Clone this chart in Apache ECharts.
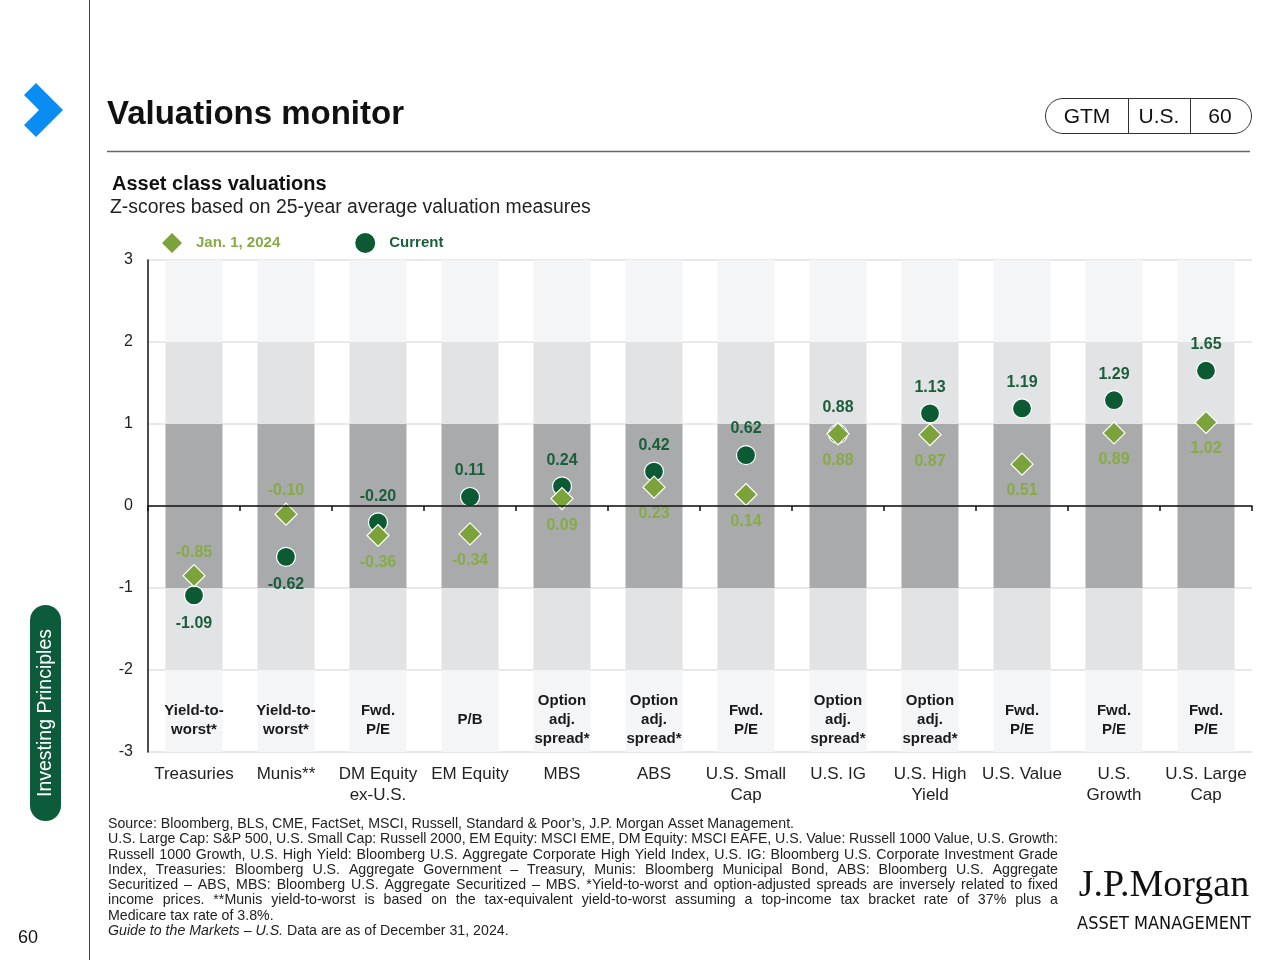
<!DOCTYPE html>
<html>
<head>
<meta charset="utf-8">
<script src="https://cdn.jsdelivr.net/npm/echarts@6/dist/echarts.min.js"></script>
<style>
html,body{margin:0;padding:0;background:#fff;}
#chart{width:1280px;height:960px;}
</style>
</head>
<body>
<div id="chart"></div>
<script>
// ---------- data ----------
const categories = ['Treasuries', 'Munis**', 'DM Equity\nex-U.S.', 'EM Equity', 'MBS', 'ABS',
  'U.S. Small\nCap', 'U.S. IG', 'U.S. High\nYield', 'U.S. Value', 'U.S.\nGrowth', 'U.S. Large\nCap'];
const measures = ['Yield-to-\nworst*', 'Yield-to-\nworst*', 'Fwd.\nP/E', 'P/B', 'Option\nadj.\nspread*',
  'Option\nadj.\nspread*', 'Fwd.\nP/E', 'Option\nadj.\nspread*', 'Option\nadj.\nspread*', 'Fwd.\nP/E',
  'Fwd.\nP/E', 'Fwd.\nP/E'];
const current = [-1.09, -0.62, -0.20, 0.11, 0.24, 0.42, 0.62, 0.88, 1.13, 1.19, 1.29, 1.65];
const jan2024 = [-0.85, -0.10, -0.36, -0.34, 0.09, 0.23, 0.14, 0.88, 0.87, 0.51, 0.89, 1.02];
const yTicks = [-3, -2, -1, 0, 1, 2, 3];
const bandEdges = [1, 2, 3]; // z-score band edges (symmetrical around 0)
const seriesNames = ['Jan. 1, 2024', 'Current'];

// ---------- styles ----------
const FONT = '"Liberation Sans", Arial, sans-serif';
const DARK_GREEN = '#0b5a34';
const DARK_GREEN_TXT = '#1b5e3c';
const OLIVE = '#7ba33a';
const OLIVE_TXT = '#88ab46';
const bandColors = ['#a9aaac', '#e2e3e5', '#f4f5f7'];

const chart = echarts.init(document.getElementById('chart'));

// background bands as stacked bars
const bandSeries = [];
let prev = 0;
bandEdges.forEach((edge, k) => {
  const thick = edge - prev;
  prev = edge;
  [-1, 1].forEach(sign => {
    const s = {
      type: 'bar', stack: 'bands', barWidth: '62%', silent: true, z: 1,
      itemStyle: { color: bandColors[k] },
      data: categories.map(() => sign * thick),
      label: { show: false }
    };
    if (k === bandEdges.length - 1 && sign === -1) {
      s.label = {
        show: true, position: 'inside', offset: [0, 9],
        formatter: p => measures[p.dataIndex],
        color: '#1a1a1a', fontFamily: FONT, fontWeight: 'bold', fontSize: 15, lineHeight: 19
      };
    }
    bandSeries.push(s);
  });
});

const fmt = p => (typeof p.value === 'number' ? p.value : p.value[1]).toFixed(2);

const janData = jan2024.map((v, i) => ({
  value: v,
  label: { position: current[i] >= v ? 'bottom' : 'top', distance: current[i] >= v ? 7 : 4 }
}));
const curData = current.map((v, i) => ({
  value: v,
  label: { position: v >= jan2024[i] ? 'top' : 'bottom', distance: v >= jan2024[i] ? 8 : 10 }
}));

// footnotes
const footLines = [
  'Source: Bloomberg, BLS, CME, FactSet, MSCI, Russell, Standard & Poor\u2019s, J.P. Morgan Asset Management.',
  'U.S. Large Cap: S&P 500, U.S. Small Cap: Russell 2000, EM Equity: MSCI EME, DM Equity: MSCI EAFE, U.S. Value: Russell 1000 Value, U.S. Growth:',
  'Russell 1000 Growth, U.S. High Yield: Bloomberg U.S. Aggregate Corporate High Yield Index, U.S. IG: Bloomberg U.S. Corporate Investment Grade',
  'Index, Treasuries: Bloomberg U.S. Aggregate Government \u2013 Treasury, Munis: Bloomberg Municipal Bond, ABS: Bloomberg U.S. Aggregate',
  'Securitized \u2013 ABS, MBS: Bloomberg U.S. Aggregate Securitized \u2013 MBS. *Yield-to-worst and option-adjusted spreads are inversely related to fixed',
  'income prices. **Munis yield-to-worst is based on the tax-equivalent yield-to-worst assuming a top-income tax bracket rate of 37% plus a',
  'Medicare tax rate of 3.8%.'
];
const FOOT_SIZE = 14.2;
const footFont = FOOT_SIZE + 'px ' + FONT;
const ctx = document.createElement('canvas').getContext('2d');
ctx.font = footFont;
const footEls = [];
const footX = 108, footW = 950, footY0 = 824, footDY = 15.3;
footLines.forEach((line, li) => {
  const y = footY0 + li * footDY;
  const justify = li >= 1 && li <= 5;
  if (!justify) {
    footEls.push({ type: 'text', x: footX, y: y, style: { text: line, font: footFont, fill: '#222', textVerticalAlign: 'middle' } });
  } else {
    const words = line.split(' ');
    const widths = words.map(w => ctx.measureText(w).width);
    const total = widths.reduce((a, b) => a + b, 0);
    const gap = (footW - total) / (words.length - 1);
    let x = footX;
    words.forEach((w, wi) => {
      footEls.push({ type: 'text', x: x, y: y, style: { text: w, font: footFont, fill: '#222', textVerticalAlign: 'middle' } });
      x += widths[wi] + gap;
    });
  }
});
footEls.push({
  type: 'text', x: footX, y: footY0 + 7 * footDY,
  style: {
    text: '{i|Guide to the Markets \u2013 U.S.} Data are as of December 31, 2024.',
    font: footFont, fill: '#222', textVerticalAlign: 'middle',
    rich: { i: { fontStyle: 'italic', fontSize: FOOT_SIZE, fontFamily: FONT, fill: '#222' } }
  }
});

const option = {
  animation: false,
  backgroundColor: '#fff',
  textStyle: { fontFamily: FONT },
  legend: {
    left: 162, top: 233, padding: 0, itemWidth: 20, itemHeight: 20, itemGap: 75,
    selectedMode: false,
    data: [
      { name: seriesNames[0], icon: 'diamond', itemStyle: { borderWidth: 0 }, textStyle: { color: OLIVE_TXT } },
      { name: seriesNames[1], icon: 'circle', itemStyle: { borderWidth: 0 }, textStyle: { color: DARK_GREEN_TXT } }
    ],
    textStyle: { fontFamily: FONT, fontWeight: 'bold', fontSize: 15, padding: [0, 0, 0, 9] }
  },
  grid: { left: 148, right: 28, top: 260, bottom: 208 },
  xAxis: [
    {
      type: 'category', data: categories, position: 'bottom',
      axisLine: { onZero: true, lineStyle: { color: '#111', width: 1.5 } },
      axisTick: { show: true, length: 5, lineStyle: { color: '#111', width: 1.5 } },
      axisLabel: { show: false }, splitLine: { show: false }, z: 5
    },
    {
      type: 'category', data: categories, position: 'bottom',
      axisLine: { show: false, onZero: false }, axisTick: { show: false },
      axisLabel: { show: true, margin: 12, color: '#222', fontSize: 17, lineHeight: 21, fontFamily: FONT, interval: 0 }
    }
  ],
  yAxis: {
    type: 'value', min: yTicks[0], max: yTicks[yTicks.length - 1], interval: 1,
    axisLine: { show: true, lineStyle: { color: '#111', width: 1.5 } },
    axisTick: { show: false },
    axisLabel: { color: '#222', fontSize: 16, margin: 15, fontFamily: FONT },
    splitLine: { show: true, lineStyle: { color: '#e0e1e3', width: 1.5 } }
  },
  series: bandSeries.concat([
    {
      name: seriesNames[1], type: 'scatter', data: curData, z: 3,
      symbol: 'circle', symbolSize: 19,
      itemStyle: { color: DARK_GREEN, borderColor: '#fff', borderWidth: 1.2, opacity: 1 },
      label: { show: true, formatter: fmt, color: DARK_GREEN_TXT, fontWeight: 'bold', fontSize: 16, fontFamily: FONT }
    },
    {
      name: seriesNames[0], type: 'scatter', data: janData, z: 4,
      symbol: 'diamond', symbolSize: 22,
      itemStyle: { color: OLIVE, borderColor: '#fff', borderWidth: 1.2, opacity: 1 },
      label: { show: true, formatter: fmt, color: OLIVE_TXT, fontWeight: 'bold', fontSize: 16, fontFamily: FONT }
    }
  ]),
  graphic: [
    // left rule
    { type: 'line', shape: { x1: 89.5, y1: 0, x2: 89.5, y2: 960 }, style: { stroke: '#444', lineWidth: 1 } },
    // chevron
    { type: 'polygon', shape: { points: [[24, 95], [36, 83], [63, 110], [36, 137], [24, 125], [39, 110]] }, style: { fill: '#0a8df2' } },
    // title
    { type: 'text', x: 107, y: 115, style: { text: 'Valuations monitor', font: 'bold 33px ' + FONT, fill: '#111', textVerticalAlign: 'middle' } },
    { type: 'line', shape: { x1: 107, y1: 151.5, x2: 1250, y2: 151.5 }, style: { stroke: '#666', lineWidth: 1.5 } },
    // GTM pill
    { type: 'rect', shape: { x: 1045.5, y: 98.5, width: 206, height: 35, r: 17.5 }, style: { fill: 'none', stroke: '#333', lineWidth: 1 } },
    { type: 'line', shape: { x1: 1128.5, y1: 98.5, x2: 1128.5, y2: 133.5 }, style: { stroke: '#333', lineWidth: 1 } },
    { type: 'line', shape: { x1: 1190.5, y1: 98.5, x2: 1190.5, y2: 133.5 }, style: { stroke: '#333', lineWidth: 1 } },
    { type: 'text', x: 1087, y: 117, style: { text: 'GTM', font: '21px ' + FONT, fill: '#111', textAlign: 'center', textVerticalAlign: 'middle' } },
    { type: 'text', x: 1159, y: 117, style: { text: 'U.S.', font: '21px ' + FONT, fill: '#111', textAlign: 'center', textVerticalAlign: 'middle' } },
    { type: 'text', x: 1220, y: 117, style: { text: '60', font: '21px ' + FONT, fill: '#111', textAlign: 'center', textVerticalAlign: 'middle' } },
    // subtitle
    { type: 'text', x: 112, y: 184, style: { text: 'Asset class valuations', font: 'bold 20px ' + FONT, fill: '#111', textVerticalAlign: 'middle' } },
    { type: 'text', x: 110, y: 208, style: { text: 'Z-scores based on 25-year average valuation measures', font: '19.4px ' + FONT, fill: '#222', textVerticalAlign: 'middle' } },
    // side pill
    { type: 'rect', shape: { x: 30, y: 605, width: 31, height: 216, r: 15.5 }, style: { fill: '#0c5c3b' } },
    { type: 'text', x: 46, y: 713, rotation: Math.PI / 2, style: { text: 'Investing Principles', font: '19.5px ' + FONT, fill: '#fff', textAlign: 'center', textVerticalAlign: 'middle' } },
    // page number
    { type: 'text', x: 18, y: 938, style: { text: '60', font: '18px ' + FONT, fill: '#111', textVerticalAlign: 'middle' } },
    // logo
    { type: 'text', x: 1164, y: 886, style: { text: 'J.P.Morgan', font: '38px "Liberation Serif", "Times New Roman", serif', fill: '#111', textAlign: 'center', textVerticalAlign: 'middle' } },
    { type: 'text', x: 1164, y: 924, style: { text: 'ASSET MANAGEMENT', font: '18px "Liberation Sans Narrow", "DejaVu Sans Condensed", ' + FONT, fill: '#111', textAlign: 'center', textVerticalAlign: 'middle' } }
  ].concat(footEls)
};
chart.setOption(option);
</script>
</body>
</html>
